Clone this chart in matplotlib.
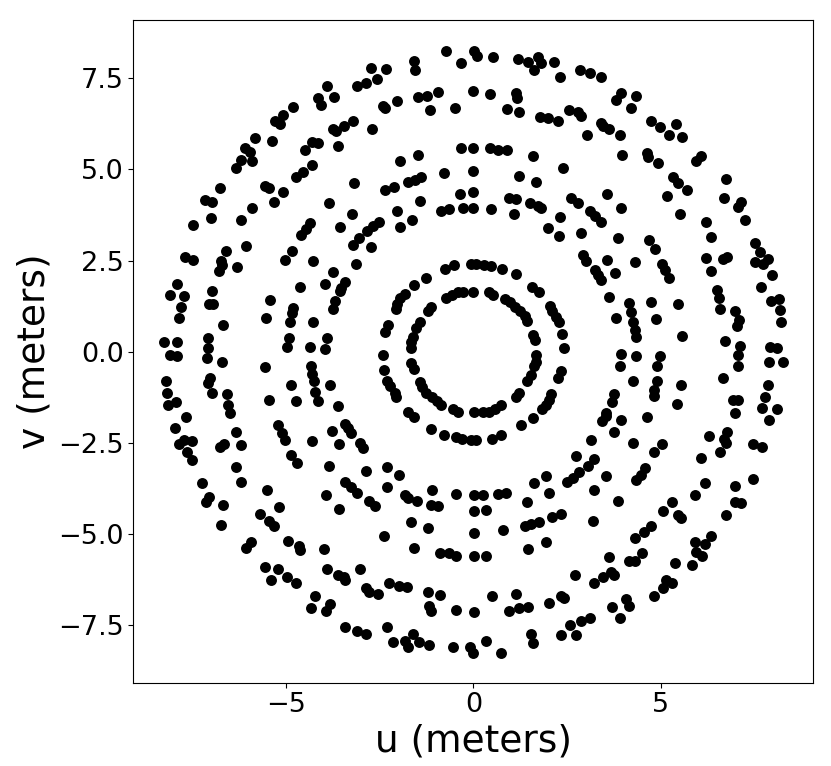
import numpy as np
import matplotlib
matplotlib.use("Agg")
import matplotlib.pyplot as plt

# uv samples, upper half-plane (v >= 0) only;
# the other half is the conjugate baseline set (-u, -v)
u_half = [
    -3.90, -3.10, -4.14, -4.06, -3.71, -4.81, -5.07, -5.29, -5.15, -5.82,
    -5.37, -6.09, -5.95, -5.90, -6.19, -6.33, -6.75, -5.55, -5.45, -5.07,
    -3.74, -3.66, -3.45, -3.21, -3.61, -4.30, -4.14, -4.49, -4.30, -4.54,
    -4.73, -3.18, -2.73, -2.33, -2.57, -2.86, -1.58, -1.55, -0.73, 0.02,
    0.10, -0.33, 0.53, 1.19, 1.46, 1.73, 1.81, 1.62, 2.15, 2.31,
    2.85, 3.11, -2.41, -2.35, -2.03, -1.47, -1.23, -0.94, -1.15, -0.49,
    -0.01, 0.45, 1.14, 1.17, 0.90, 1.22, 1.78, 1.99, 2.26, 2.55,
    2.79, 2.87, 3.03, -2.70, -0.33, -0.01, 0.45, 0.66, 0.90, 1.59,
    2.39, -1.47, -1.95, -0.78, -0.01, 1.22, 1.67, -1.74, -1.55, -1.39,
    -2.11, -2.35, 3.41, 3.94, 3.81, 4.34, 4.21, 3.41, 3.46, 3.62,
    3.91, 4.74, 4.98, 5.41, 5.22, 5.57, 3.97, 4.63, 4.66, 4.93,
    5.94, 6.07, 6.74, 5.33, 5.46, 5.70, -5.31, -7.15, -6.97, -6.99,
    -7.47, -5.90, -6.19, -3.85, -3.23, -3.55, -4.35, -4.46, -4.59, -3.21,
    -6.06, -6.59, -7.69, -7.47, -6.73, -6.70, -6.78, -6.30, -4.83, -5.02,
    -4.27, -3.13, -3.74, -3.95, -3.42, -3.53, -3.55, -3.69, -3.74, -4.62,
    -7.90, -8.09, -7.71, -6.97, -7.05, -6.94, -7.79, -7.85, -6.67, -5.42,
    -5.53, -4.81, -4.83, -4.89, -4.27, -8.25, -7.90, -7.07, -7.07, -4.91,
    -4.97, -4.35, -3.90, -3.95, -1.42, -2.03, -1.63, -1.95, -0.35, -0.01,
    -0.86, -0.65, -0.27, -0.01, 0.47, 0.95, 1.14, 1.09, 1.51, 1.73,
    1.81, 2.61, 2.79, 2.31, 1.99, 2.29, 2.87, 2.93, 3.01, -3.05,
    -2.83, -2.67, -2.51, -2.73, -0.75, -0.51, -0.06, 0.07, 0.29, 0.47,
    0.77, 1.14, 1.57, 1.75, 2.05, 2.10, 2.21, 2.29, 2.37, 2.42,
    -1.26, -1.58, -1.82, -1.95, -2.03, -2.06, -2.27, -2.35, -0.73, -0.57,
    -0.41, -0.27, -0.01, 0.42, 0.53, 0.85, 0.98, 1.11, 1.25, 1.38,
    1.43, 1.59, 1.65, -1.13, -1.21, -1.42, -1.53, -1.61, -1.66, -1.66,
    3.57, 3.94, 3.11, 3.25, 3.41, 5.17, 5.51, 6.69, 7.14, 7.06,
    7.25, 6.21, 6.34, 3.86, 4.69, 4.85, 3.57, 4.31, 3.25, 3.33,
    3.41, 3.78, 5.03, 5.11, 5.22, 6.21, 6.66, 6.34, 7.51, 7.65,
    7.51, 7.73, 7.86, 7.97, 7.67, 3.62, 3.81, 4.15, 4.21, 4.26,
    4.31, 4.34, 4.74, 4.87, 5.46, 5.57, 6.50, 6.55, 6.58, 6.98,
    7.09, 7.03, 6.71, 7.11, 7.94, 8.15, 8.18, 8.21, 7.91, 8.10,
    6.77,
]
v_half = [
    7.29, 7.29, 6.96, 6.77, 6.99, 6.71, 6.49, 6.33, 6.25, 5.86,
    5.78, 5.59, 5.48, 5.23, 5.26, 5.04, 4.49, 4.55, 4.49, 4.38,
    6.11, 6.05, 6.19, 6.33, 5.64, 5.75, 5.73, 5.53, 5.12, 4.93,
    4.79, 4.63, 7.78, 7.76, 7.48, 7.37, 7.98, 7.73, 8.25, 8.25,
    8.11, 7.92, 8.09, 8.03, 7.95, 8.09, 7.92, 7.73, 7.95, 7.54,
    7.73, 7.65, 6.74, 6.69, 6.88, 6.99, 7.02, 7.12, 6.63, 6.69,
    7.15, 7.07, 7.10, 6.96, 6.66, 6.58, 6.44, 6.41, 6.33, 6.63,
    6.58, 6.47, 5.95, 6.11, 5.59, 5.59, 5.59, 5.53, 5.53, 5.37,
    5.04, 5.40, 5.23, 4.90, 4.96, 4.82, 4.66, 4.66, 4.71, 4.79,
    4.52, 4.44, 7.54, 7.10, 6.91, 7.02, 6.69, 6.27, 6.19, 6.11,
    5.95, 6.33, 6.17, 6.25, 5.95, 5.89, 5.40, 5.45, 5.34, 5.18,
    5.23, 5.37, 4.74, 4.79, 4.63, 4.44, 4.11, 4.16, 4.11, 3.67,
    3.48, 3.94, 3.61, 4.08, 3.78, 3.42, 3.53, 3.37, 3.20, 2.93,
    2.90, 2.76, 2.60, 2.52, 2.49, 2.38, 2.21, 2.32, 2.76, 2.52,
    2.49, 2.41, 2.19, 1.86, 1.91, 1.75, 1.67, 1.39, 1.17, 1.78,
    1.86, 1.56, 1.53, 1.67, 1.31, 1.31, 1.23, 0.92, 0.73, 1.42,
    0.92, 1.20, 1.06, 0.81, 0.81, 0.27, 0.27, 0.38, 0.10, 0.38,
    0.13, 0.13, 0.38, 0.07, 4.13, 3.86, 3.61, 3.42, 4.33, 4.38,
    3.86, 3.91, 3.94, 3.94, 3.91, 4.22, 4.19, 3.78, 4.08, 4.00,
    3.94, 4.22, 4.08, 3.70, 3.39, 3.17, 3.26, 2.65, 2.49, 3.12,
    3.31, 3.45, 3.56, 2.87, 2.27, 2.38, 2.41, 2.41, 2.38, 2.35,
    2.27, 2.13, 1.78, 1.64, 1.25, 1.12, 0.95, 0.81, 0.49, 0.10,
    2.02, 1.83, 1.58, 1.47, 1.31, 1.17, 0.73, 0.54, 1.47, 1.56,
    1.64, 1.64, 1.64, 1.64, 1.56, 1.45, 1.36, 1.23, 1.12, 0.98,
    0.84, 0.46, 0.32, 1.23, 1.12, 0.81, 0.65, 0.40, 0.27, 0.10,
    4.32, 3.94, 3.86, 3.72, 3.56, 4.27, 3.78, 4.21, 4.11, 3.97,
    3.61, 3.56, 3.15, 3.12, 3.06, 2.82, 2.52, 2.46, 2.24, 2.10,
    1.97, 2.16, 2.41, 2.24, 2.02, 2.57, 2.54, 2.21, 2.98, 2.74,
    2.46, 2.41, 2.54, 2.10, 1.78, 1.50, 0.92, 1.34, 1.09, 0.81,
    0.60, 0.40, 1.36, 0.90, 1.31, 0.43, 1.69, 1.47, 1.17, 1.12,
    0.87, 0.71, 0.29, 0.16, 1.39, 1.45, 1.14, 0.81, 0.13, 0.10,
    2.60,
]

u_half = np.array(u_half)
v_half = np.array(v_half)
u = np.concatenate([u_half, -u_half])
v = np.concatenate([v_half, -v_half])

fig = plt.figure(figsize=(8.31, 7.66), dpi=100)
ax = fig.add_axes([0.1604, 0.109, 0.8179, 0.865])
ax.scatter(u, v, s=62, c="k", linewidths=0)

ax.set_xlim(-9.07, 9.06)
ax.set_ylim(-9.07, 9.10)
ax.set_xticks([-5, 0, 5])
ax.set_yticks([-7.5, -5.0, -2.5, 0.0, 2.5, 5.0, 7.5])
ax.tick_params(labelsize=19.5)
ax.set_xlabel("u (meters)", fontsize=27)
ax.set_ylabel("v (meters)", fontsize=27)

fig.savefig("out.png", dpi=100, facecolor="white")
